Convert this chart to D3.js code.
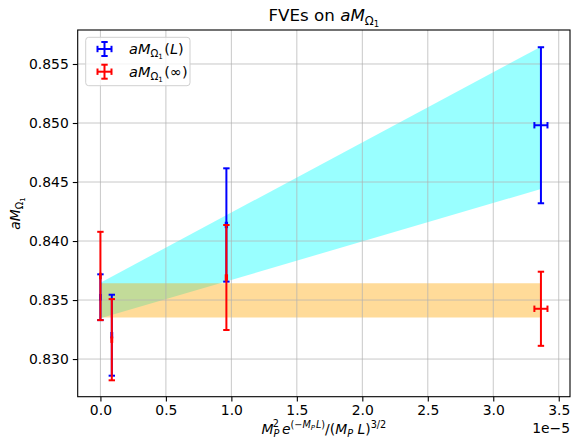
<!DOCTYPE html>
<html>
<head>
<meta charset="utf-8">
<script src="https://cdn.jsdelivr.net/npm/d3@7"></script>
<style>
  body { margin: 0; background: #fff; }
  svg { font-family: "DejaVu Sans", sans-serif; }
</style>
</head>
<body>
<svg id="chart" width="571" height="441"></svg>
<script>
// x values in units of 1e-5
const xVals = [0, 0.087, 0.962, 3.364];
const xErr = [0, 0.003, 0.005, 0.05];
const finiteL = [0.83524, 0.83202, 0.84136, 0.84981];
const finiteLErr = [0.00194, 0.00343, 0.0048, 0.00661];
const infL = [0.83704, 0.83164, 0.83691, 0.83426];
const infLErr = [0.00374, 0.00344, 0.00445, 0.00314];

const bandX = [0, 3.364];
const cyanLow = [0.83345, 0.84441];
const cyanHigh = [0.83647, 0.85647];
const orangeLow = [0.83352, 0.83352];
const orangeHigh = [0.83642, 0.83642];

const xTicks = [0, 0.5, 1.0, 1.5, 2.0, 2.5, 3.0, 3.5];
const yTicks = [0.830, 0.835, 0.840, 0.845, 0.850, 0.855];

const svg = d3.select("#chart");
const L = 77.7, R = 570, T = 30, B = 396.7;

const x = d3.scaleLinear().domain([-0.1735, 3.586]).range([L, R]);
const y = d3.scaleLinear().domain([0.82681, 0.85788]).range([B, T]);

// bands
const area = (lo, hi) => d3.area()
  .x((d, i) => x(bandX[i]))
  .y0((d, i) => y(lo[i]))
  .y1((d, i) => y(hi[i]));

svg.append("path").attr("d", area(cyanLow, cyanHigh)(bandX))
  .attr("fill", "cyan").attr("fill-opacity", 0.4);
svg.append("path").attr("d", area(orangeLow, orangeHigh)(bandX))
  .attr("fill", "orange").attr("fill-opacity", 0.4);

// grid
svg.append("g").selectAll("line").data(xTicks).join("line")
  .attr("x1", d => x(d)).attr("x2", d => x(d)).attr("y1", T).attr("y2", B)
  .attr("stroke", "#b0b0b0").attr("stroke-width", 1).attr("stroke-opacity", 0.7);
svg.append("g").selectAll("line").data(yTicks).join("line")
  .attr("y1", d => y(d)).attr("y2", d => y(d)).attr("x1", L).attr("x2", R)
  .attr("stroke", "#b0b0b0").attr("stroke-width", 1).attr("stroke-opacity", 0.7);

// error bars
const cap = 3.2;
function errorbars(vals, errs, color) {
  const g = svg.append("g").attr("stroke", color).attr("stroke-width", 2).attr("fill", "none");
  xVals.forEach((xv, i) => {
    const cx = x(xv), cy = y(vals[i]);
    const y0 = y(vals[i] - errs[i]), y1 = y(vals[i] + errs[i]);
    const x0 = x(xv - xErr[i]), x1 = x(xv + xErr[i]);
    g.append("line").attr("x1", cx).attr("x2", cx).attr("y1", y0).attr("y2", y1);
    g.append("line").attr("x1", cx - cap).attr("x2", cx + cap).attr("y1", y0).attr("y2", y0);
    g.append("line").attr("x1", cx - cap).attr("x2", cx + cap).attr("y1", y1).attr("y2", y1);
    g.append("line").attr("x1", x0).attr("x2", x1).attr("y1", cy).attr("y2", cy);
    g.append("line").attr("x1", x0).attr("x2", x0).attr("y1", cy - cap).attr("y2", cy + cap);
    g.append("line").attr("x1", x1).attr("x2", x1).attr("y1", cy - cap).attr("y2", cy + cap);
  });
}
errorbars(finiteL, finiteLErr, "blue");
errorbars(infL, infLErr, "red");

// axes
const xAxis = d3.axisBottom(x).tickValues(xTicks).tickFormat(d3.format(".1f")).tickSize(4.9).tickPadding(4);
const yAxis = d3.axisLeft(y).tickValues(yTicks).tickFormat(d3.format(".3f")).tickSize(4.9).tickPadding(4);
const gx = svg.append("g").attr("transform", `translate(0,${B})`).call(xAxis);
const gy = svg.append("g").attr("transform", `translate(${L},0)`).call(yAxis);
[gx, gy].forEach(g => {
  g.select(".domain").remove();
  g.selectAll("text").attr("font-size", 13.9).attr("fill", "#000").attr("font-family", "DejaVu Sans");
  g.selectAll("line").attr("stroke", "#000").attr("stroke-width", 1.1);
});
svg.append("rect").attr("x", L).attr("y", T).attr("width", R - L).attr("height", B - T)
  .attr("fill", "none").attr("stroke", "#000").attr("stroke-width", 1.1);

// offset text
svg.append("text").attr("x", 570).attr("y", 433).attr("text-anchor", "end")
  .attr("font-size", 13.9).text("1e\u22125");

// title
const title = svg.append("text").attr("x", (L + R) / 2).attr("y", 21).attr("text-anchor", "middle")
  .attr("font-size", 16.7);
title.append("tspan").text("FVEs on ");
title.append("tspan").attr("font-style", "italic").text("aM");
title.append("tspan").attr("font-size", 11.7).attr("dy", 4).text("\u03a9");
title.append("tspan").attr("font-size", 8.5).attr("dy", 2).text("1");

// x label
const xl = svg.append("text").attr("x", (L + R) / 2).attr("y", 434).attr("text-anchor", "middle")
  .attr("font-size", 13.9);
xl.append("tspan").attr("font-style", "italic").text("M");
xl.append("tspan").attr("font-style", "italic").attr("font-size", 9.7).attr("dy", 3).text("P");
xl.append("tspan").attr("font-size", 9.7).attr("dx", -6.5).attr("dy", -10).text("2");
xl.append("tspan").attr("font-style", "italic").attr("dx", 3).attr("dy", 7).text("e");
xl.append("tspan").attr("font-size", 9.7).attr("dy", -6).text("(\u2212");
xl.append("tspan").attr("font-size", 9.7).attr("font-style", "italic").text("M");
xl.append("tspan").attr("font-size", 6.9).attr("font-style", "italic").attr("dy", 2).text("P");
xl.append("tspan").attr("font-size", 9.7).attr("font-style", "italic").attr("dx", 1).attr("dy", -2).text("L");
xl.append("tspan").attr("font-size", 9.7).text(")");
xl.append("tspan").attr("dy", 6).text("/(");
xl.append("tspan").attr("font-style", "italic").text("M");
xl.append("tspan").attr("font-style", "italic").attr("font-size", 9.7).attr("dy", 3).text("P");
xl.append("tspan").attr("font-style", "italic").attr("dy", -3).text(" L");
xl.append("tspan").text(")");
xl.append("tspan").attr("font-size", 9.7).attr("dy", -6).text("3/2");

// y label
const yl = svg.append("text").attr("transform", "translate(20,213.5) rotate(-90)")
  .attr("text-anchor", "middle").attr("font-size", 13.9);
yl.append("tspan").attr("font-style", "italic").text("aM");
yl.append("tspan").attr("font-size", 9.7).attr("dy", 3).text("\u03a9");
yl.append("tspan").attr("font-size", 6.9).attr("dy", 2).text("1");

// legend
const lg = svg.append("g");
lg.append("rect").attr("x", 85.7).attr("y", 37.3).attr("width", 104.3).attr("height", 48.4)
  .attr("rx", 3).attr("fill", "#fff").attr("fill-opacity", 0.8).attr("stroke", "#d0d0d0");
const legendItems = [
  { color: "blue", sub: "L", yy: 49 },
  { color: "red", sub: "\u221e", yy: 71.7 }
];
legendItems.forEach(it => {
  const hx = 104.5, hy = it.yy;
  const g = lg.append("g").attr("stroke", it.color).attr("stroke-width", 2);
  g.append("line").attr("x1", hx - 7).attr("x2", hx + 7).attr("y1", hy).attr("y2", hy);
  g.append("line").attr("x1", hx).attr("x2", hx).attr("y1", hy - 7).attr("y2", hy + 7);
  g.append("line").attr("x1", hx - cap).attr("x2", hx + cap).attr("y1", hy - 7).attr("y2", hy - 7);
  g.append("line").attr("x1", hx - cap).attr("x2", hx + cap).attr("y1", hy + 7).attr("y2", hy + 7);
  g.append("line").attr("x1", hx - 7).attr("x2", hx - 7).attr("y1", hy - cap).attr("y2", hy + cap);
  g.append("line").attr("x1", hx + 7).attr("x2", hx + 7).attr("y1", hy - cap).attr("y2", hy + cap);
  const t = lg.append("text").attr("x", 129).attr("y", hy + 5).attr("font-size", 14.5);
  t.append("tspan").attr("font-style", "italic").text("aM");
  t.append("tspan").attr("font-size", 10.2).attr("dy", 3).text("\u03a9");
  t.append("tspan").attr("font-size", 7.2).attr("dy", 2).text("1");
  t.append("tspan").attr("dx", 1.5).attr("dy", -5).text("(");
  t.append("tspan").attr("font-style", it.sub === "L" ? "italic" : "normal").text(it.sub);
  t.append("tspan").text(")");
});
</script>
</body>
</html>
